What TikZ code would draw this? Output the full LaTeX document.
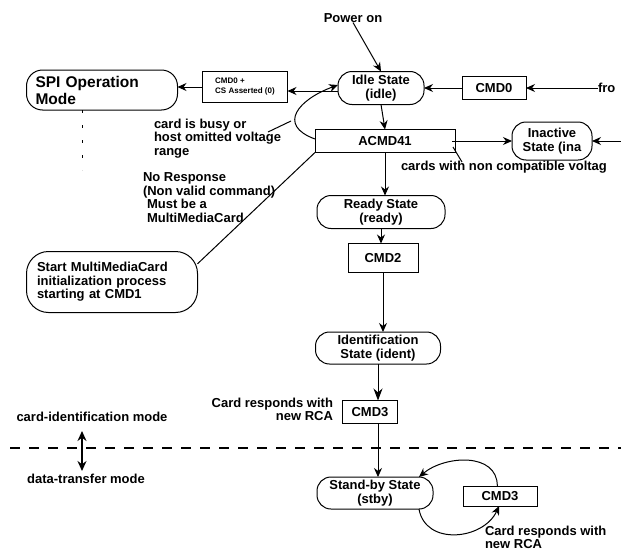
\documentclass[tikz,border=0pt]{standalone}
\usepackage{fontspec}
\setmainfont{Liberation Sans}
\usetikzlibrary{arrows.meta}

\begin{document}
\begin{tikzpicture}[x=1pt, y=-1pt, line width=1pt,
  every node/.style={font=\bfseries\fontsize{13}{13.5}\selectfont, inner sep=0pt, outer sep=0pt},
  state/.style={draw, rounded corners=14pt, align=center},
  cmdbox/.style={draw, align=center},
  lbl/.style={align=left},
  arr/.style={-{Stealth[length=9pt,width=8pt]}}]
\useasboundingbox (0,0) rectangle (621,554);

\node (poweron) at (353,18) {Power on};
\node[state, minimum width=86pt, minimum height=33pt] (idle) at (381,88) {Idle State\\(idle)};
\node[cmdbox, minimum width=64pt, minimum height=23pt] (cmdzero) at (494,88) {CMD0};
\node[anchor=west] (fro) at (598,88) {fro};
\node[cmdbox, minimum width=85pt, minimum height=31pt, font=\bfseries\fontsize{8}{10}\selectfont, align=left] (cmdcs) at (245,87) {CMD0 +\\CS Asserted (0)};
\node[draw, rounded corners=16pt, minimum width=151pt, minimum height=40pt, text width=133pt, align=left, font=\bfseries\fontsize{15.5}{17}\selectfont] (spi) at (102,90) {SPI Operation\\Mode};
\node[cmdbox, minimum width=140pt, minimum height=23pt] (acmd) at (385,141) {ACMD41};
\node[state, minimum width=80pt, minimum height=38pt] (inactive) at (552,141) {Inactive\\State (ina};
\node[state, minimum width=128pt, minimum height=33pt] (ready) at (381,212) {Ready State\\(ready)};
\node[cmdbox, minimum width=70pt, minimum height=29pt] (cmdtwo) at (383,258) {CMD2};
\node[state, minimum width=125pt, minimum height=32pt] (ident) at (378,348) {Identification\\State (ident)};
\node[cmdbox, minimum width=55pt, minimum height=23pt] (cmdthree) at (370,412) {CMD3};
\node[state, minimum width=116pt, minimum height=32pt] (stby) at (375,493) {Stand-by State\\(stby)};
\node[cmdbox, minimum width=74pt, minimum height=20pt] (cmdthreeb) at (500,496) {CMD3};
\node[draw, rounded corners=22pt, minimum width=171pt, minimum height=61pt, text width=150pt, align=left] (start) at (112,282) {Start MultiMediaCard\\initialization process\\ starting at CMD1};

\node[lbl, anchor=north west] (busy) at (154,119) {card is busy or\\host omitted voltage\\range};
\node[lbl, anchor=north west] (noresp) at (143,173) {No Response\\(Non valid command)\\\hspace*{4pt}Must be a\\\hspace*{4pt}MultiMediaCard};
\node[anchor=west] (volt) at (401,167) {cards with non compatible voltag};
\node[lbl, anchor=north east, align=right] (rcaone) at (333,398) {Card responds with\\new RCA};
\node[lbl, anchor=north west] (rcatwo) at (485,526) {Card responds with\\new RCA};
\node (cidmode) at (92,417) {card-identification mode};
\node (dtmode) at (86,479) {data-transfer mode};

\coordinate (busyfoot) at (268,132);
\coordinate (busytip) at (291,121);
\coordinate (voltip) at (453,147);
\coordinate (voltfoot) at (462,162);
\coordinate (inaright) at (621,141);
\coordinate (modeup) at (82,431);
\coordinate (modedown) at (82,471);

\draw[arr] (poweron.south) -- (idle.north);
\draw[arr] (fro.west) -- (cmdzero.east);
\draw[arr] (cmdzero.west) -- (idle.east);
\draw[arr] ([yshift=-3pt]idle.west) -- ([yshift=-3pt]idle.west -| cmdcs.east);
\draw[arr] (cmdcs.west) -- (cmdcs.west -| spi.east);
\draw[dashed, dash pattern=on 3pt off 12pt] ([xshift=-20pt]spi.south) -- ++(0,60);
\draw[arr] (idle.south) -- (acmd.north);
\draw[arr] ([yshift=2pt]acmd.west) to[out=160, in=200, looseness=1.8] ([yshift=3pt]idle.west);
\draw (busyfoot) -- (busytip);
\draw[arr] ([xshift=-3pt]acmd.east) -- (inactive.west);
\draw[arr] (inaright) -- (inactive.east);
\draw (voltip) -- (voltfoot);
\draw (start.12) -- (acmd.south west);
\draw[arr] (acmd.south) -- (acmd.south |- ready.north);
\draw[arr] (ready.south) -- (ready.south |- cmdtwo.north);
\draw[arr] (cmdtwo.south) -- (cmdtwo.south |- ident.north);
\draw[-{Stealth[length=12pt,width=9pt]}] (ident.south) -- (ident.south |- cmdthree.north);
\draw[arr, line width=0.8pt] (ident.south |- cmdthree.south) -- (ident.south |- stby.north);
\draw[arr] (cmdthreeb.105) to[out=90, in=40, looseness=1.1] (stby.20);
\draw[arr] (stby.-20) to[out=-80, in=-115, looseness=1.2] (cmdthreeb.-95);
\draw[line width=2.5pt, dash pattern=on 10pt off 9pt] (10,448) -- (621,448);
\draw[{Stealth[length=10pt,width=9pt]}-{Stealth[length=10pt,width=9pt]}, line width=1.5pt] (modeup) -- (modedown);
\end{tikzpicture}
\end{document}
